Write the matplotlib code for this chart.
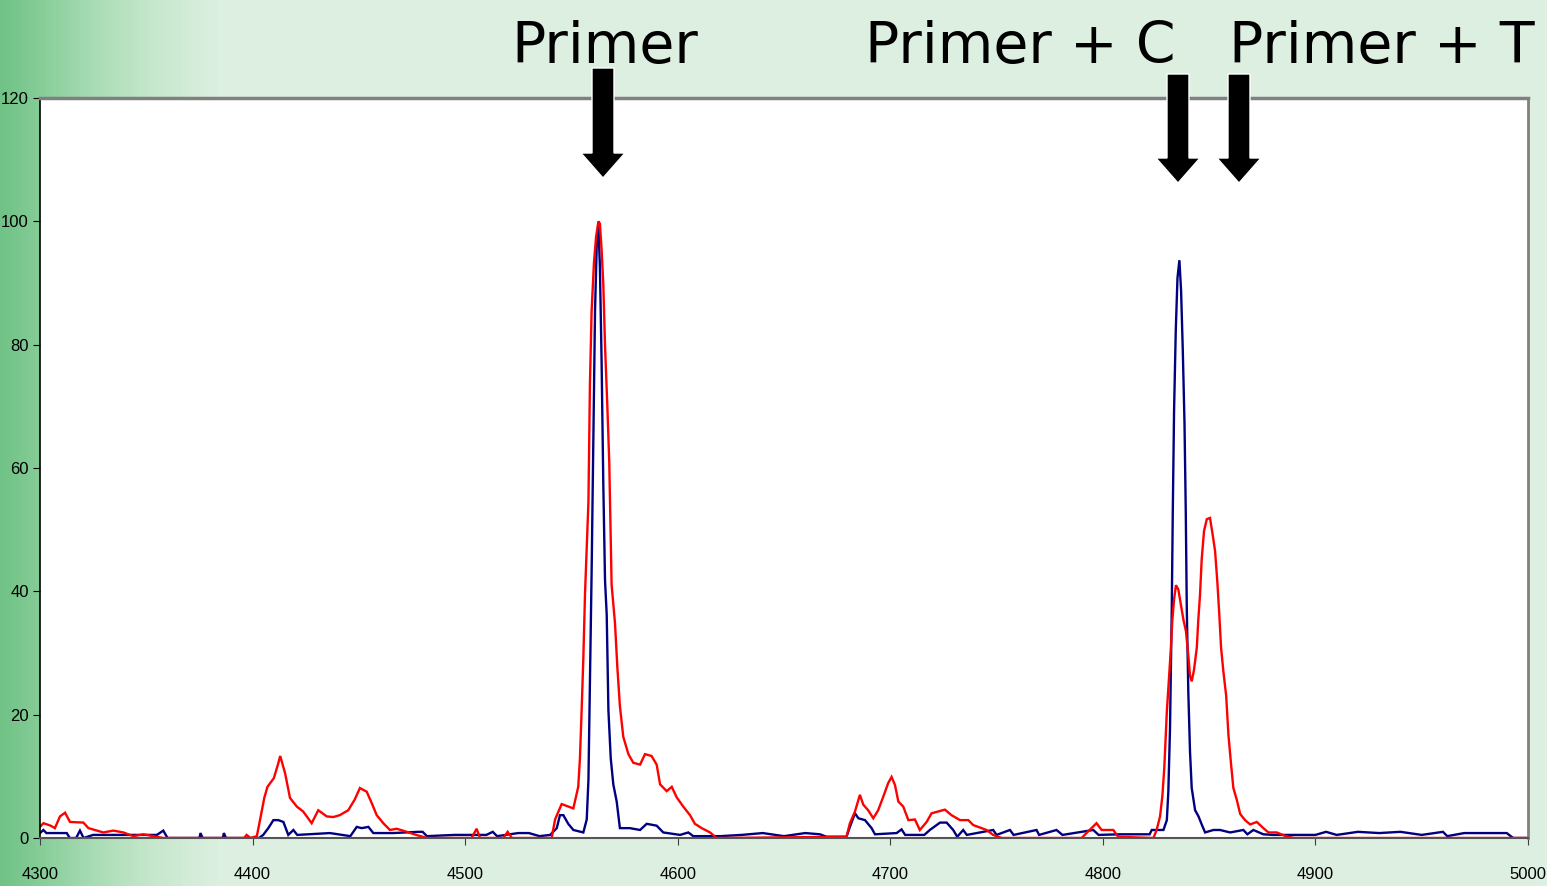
import numpy as np
import matplotlib
matplotlib.use("Agg")
from matplotlib import pyplot as plt
from matplotlib.patches import FancyArrow
from matplotlib.transforms import IdentityTransform

# DATA
red_mass = [4300, 4301.6, 4305, 4307, 4309.4, 4311.8, 4314.1, 4320.4, 4322.8, 4326.7,
            4329.8, 4334.5, 4339.2, 4343.9, 4348.6, 4353.3, 4358, 4396, 4397.2, 4399,
            4402, 4403.5, 4405.5, 4407, 4410, 4412, 4413, 4415.3, 4417.6, 4420.8,
            4423.8, 4427.8, 4430.9, 4434.9, 4438, 4441, 4445, 4448, 4450.5, 4453.7,
            4456, 4458.4, 4461.5, 4464.6, 4467.8, 4472.5, 4477, 4482, 4503, 4505.4,
            4507, 4518, 4520, 4522, 4540.7, 4542.3, 4545.4, 4548.5, 4550.9, 4553.2,
            4554.0, 4554.8, 4555.6, 4556.4, 4558.0, 4558.7, 4559.5, 4560.6, 4561.6, 4562.7,
            4563.4, 4564.2, 4565.0, 4565.8, 4566.9, 4567.8, 4568.9, 4570.5, 4571.6, 4572.8,
            4574.4, 4576.8, 4579.1, 4582.3, 4584.6, 4587.7, 4590.1, 4591.7, 4594.8, 4597.2,
            4599.5, 4602.6, 4605.8, 4608.1, 4611.3, 4615.2, 4618.3, 4679.4, 4681, 4683.4,
            4685.7, 4687.3, 4689.6, 4692, 4694.3, 4696.7, 4699.0, 4700.6, 4702.2, 4703.8,
            4706.1, 4708.5, 4711.6, 4713.9, 4717.1, 4719.4, 4722.6, 4725.7, 4728.8, 4732.8,
            4736.7, 4739.0, 4742.2, 4745.3, 4748.4, 4752.4, 4790, 4792.3, 4797.0, 4799.4,
            4804.9, 4807.2, 4823.8, 4825.3, 4826.9, 4828.0, 4828.9, 4830.1, 4831.2, 4831.9,
            4832.7, 4833.5, 4834.4, 4835.5, 4836.6, 4837.9, 4839.1, 4840.2, 4841.0, 4841.8,
            4842.9, 4844.2, 4844.9, 4845.7, 4846.5, 4847.6, 4848.9, 4850.4, 4851.7, 4852.8,
            4853.9, 4854.8, 4855.6, 4856.7, 4858.0, 4859.1, 4860.3, 4861.4, 4863.0, 4864.6,
            4866.9, 4869.3, 4872.4, 4875.5, 4877.9, 4881.8, 4886, 4890, 5000]
red_int = [1.8, 2.4, 2.0, 1.6, 3.5, 4.1, 2.6, 2.5, 1.6, 1.2,
           0.9, 1.2, 0.9, 0.3, 0.6, 0.3, 0, 0, 0.5, 0,
           0.3, 2.9, 6.5, 8.3, 9.7, 12.0, 13.3, 10.5, 6.5, 5.1,
           4.3, 2.4, 4.5, 3.5, 3.4, 3.7, 4.5, 6.2, 8.1, 7.5,
           5.7, 3.7, 2.4, 1.3, 1.5, 1.0, 0.5, 0, 0, 1.5,
           0, 0, 1.0, 0, 0, 3.0, 5.5, 5.1, 4.8, 8.3,
           12.9, 20.7, 29.1, 39.7, 54.5, 73.6, 85.5, 93.3, 97.5, 100,
           99.6, 95.4, 89.8, 79.9, 70.0, 60.9, 41.1, 34.8, 27.7, 21.4,
           16.4, 13.6, 12.2, 11.9, 13.6, 13.3, 11.9, 8.7, 7.6, 8.3,
           6.6, 5.1, 3.7, 2.3, 1.6, 0.9, 0, 0.2, 2.4, 4.3,
           7.0, 5.4, 4.5, 3.2, 4.5, 6.7, 8.9, 9.9, 8.6, 5.9,
           5.1, 2.9, 3.0, 1.3, 2.6, 4.0, 4.3, 4.6, 3.7, 2.9,
           2.9, 2.1, 1.7, 1.3, 0.5, 0, 0, 0.8, 2.4, 1.3,
           1.3, 0.2, 0, 1.3, 3.5, 6.8, 11.4, 20.5, 26.3, 30.2,
           35.4, 38.7, 41.0, 40.3, 38.1, 35.4, 33.5, 29.6, 26.3, 25.4,
           27.3, 30.9, 35.4, 39.4, 45.2, 49.8, 51.7, 51.9, 49.1, 46.5,
           41.3, 36.1, 30.9, 27.0, 23.1, 16.6, 12.0, 8.1, 6.2, 3.9,
           2.9, 2.2, 2.6, 1.6, 0.9, 0.9, 0.3, 0, 0]

blue_mass = [4300, 4301.6, 4303, 4312.6, 4314, 4317, 4318.8, 4320.5, 4325, 4340,
             4355, 4358, 4360, 4375, 4375.5, 4376.5, 4386, 4386.5, 4387.5, 4403,
             4405, 4407.4, 4409.8, 4412.1, 4414.5, 4416.8, 4419.2, 4421, 4436.4, 4446,
             4449, 4451.3, 4454.5, 4456.8, 4466, 4478, 4480, 4482, 4495, 4510,
             4513, 4515, 4525, 4530, 4535, 4540, 4543.1, 4544.6, 4546.2, 4548.5,
             4550.9, 4555.6, 4557.2, 4558.0, 4558.7, 4559.5, 4560.3, 4561.1, 4561.9, 4562.7,
             4563.4, 4564.2, 4565.0, 4565.8, 4566.6, 4567.4, 4568.5, 4569.7, 4571.3, 4572.8,
             4577.5, 4582.3, 4585.4, 4590.1, 4593.2, 4601.1, 4605.0, 4607.3, 4620, 4630,
             4640, 4650, 4660, 4666.9, 4670, 4679.4, 4681, 4683.4, 4685, 4688.1,
             4691.2, 4692.8, 4703, 4705.3, 4707, 4716, 4718.6, 4723.4, 4726.5, 4729.6,
             4731.5, 4734.3, 4736, 4748.4, 4750, 4756.3, 4758, 4768.8, 4770, 4778.2,
             4781, 4795.5, 4798, 4808, 4822, 4823, 4828.5, 4830.1, 4830.8, 4831.6,
             4832.4, 4832.9, 4833.5, 4834.3, 4835.1, 4836.0, 4836.8, 4837.6, 4838.4, 4839.0,
             4839.5, 4840.2, 4841.0, 4841.8, 4843.4, 4845.0, 4846.5, 4848.1, 4852.0, 4855.1,
             4859.9, 4866.1, 4868, 4870.8, 4875.5, 4880, 4900, 4905, 4910, 4920,
             4930, 4940, 4950, 4960, 4962, 4970, 4980, 4990, 4993, 5000]
blue_int = [0.8, 1.3, 0.8, 0.8, 0, 0, 1.2, 0, 0.5, 0.5,
            0.5, 1.2, 0, 0, 0.8, 0, 0, 0.8, 0, 0,
            0.5, 1.6, 2.9, 2.9, 2.6, 0.5, 1.3, 0.5, 0.8, 0.3,
            1.8, 1.6, 1.8, 0.8, 0.8, 1.0, 1.0, 0.3, 0.5, 0.5,
            1.0, 0.3, 0.8, 0.8, 0.3, 0.5, 1.6, 3.7, 3.7, 2.3,
            1.3, 0.9, 3.0, 9.4, 24.9, 43.2, 64.4, 85.5, 96.1, 99.3,
            92.6, 77.1, 57.3, 41.8, 36.2, 20.7, 12.9, 8.7, 5.9, 1.6,
            1.6, 1.3, 2.3, 2.0, 0.9, 0.5, 0.9, 0.3, 0.3, 0.5,
            0.8, 0.3, 0.8, 0.6, 0.2, 0.2, 1.8, 4.0, 3.2, 2.9,
            1.6, 0.6, 0.8, 1.4, 0.5, 0.5, 1.3, 2.5, 2.5, 1.3,
            0.2, 1.3, 0.5, 1.3, 0.5, 1.3, 0.5, 1.3, 0.5, 1.3,
            0.5, 1.3, 0.5, 0.6, 0.6, 1.3, 1.3, 2.9, 7.5, 17.9,
            36.8, 53.0, 69.3, 82.3, 90.8, 93.7, 88.8, 79.1, 67.4, 53.0,
            36.8, 23.7, 14.0, 8.1, 4.5, 3.5, 2.2, 0.9, 1.3, 1.3,
            0.9, 1.3, 0.6, 1.3, 0.6, 0.5, 0.5, 1.0, 0.5, 1.0,
            0.8, 1.0, 0.5, 1.0, 0.3, 0.8, 0.8, 0.8, 0, 0]

x_ticks = [4300, 4400, 4500, 4600, 4700, 4800, 4900, 5000]
y_ticks = [0, 20, 40, 60, 80, 100, 120]
labels = ["Primer", "Primer + C", "Primer + T"]

W, H = 1547, 886
fig = plt.figure(figsize=(W / 100, H / 100), dpi=100)

# green slide background
bg = fig.add_axes([0, 0, 1, 1], zorder=-10)
bg.axis("off")
xs = np.linspace(0, 1, 400)
stops_x = [0.0, 0.025, 0.06, 0.1, 0.14, 1.0]
r = np.interp(xs, stops_x, [112, 135, 168, 200, 220, 222])
g = np.interp(xs, stops_x, [194, 205, 220, 232, 239, 240])
b = np.interp(xs, stops_x, [134, 152, 180, 206, 224, 226])
grad = np.stack([r, g, b], axis=-1)[None, :, :] / 255.0
bg.imshow(grad, aspect="auto", extent=[0, 1, 0, 1])
bg.set_xlim(0, 1)
bg.set_ylim(0, 1)

ax = fig.add_axes([40 / W, 1 - 838 / H, (1528 - 40) / W, (838 - 98) / H])
ax.set_facecolor("white")
ax.plot(blue_mass, blue_int, color="#000080", lw=1.7, solid_joinstyle="miter")
ax.plot(red_mass, red_int, color="#ff0000", lw=1.7, solid_joinstyle="miter")
ax.set_xlim(4300, 5000)
ax.set_ylim(0, 120)
ax.set_xticks(x_ticks)
ax.set_yticks(y_ticks)

tick_font = ["Liberation Sans Narrow", "Liberation Sans", "DejaVu Sans"]
ax.set_xticklabels([str(t) for t in x_ticks], family=tick_font, fontsize=12)
ax.set_yticklabels([str(t) for t in y_ticks], family=tick_font, fontsize=12)
ax.tick_params(axis="x", direction="out", length=5, pad=16, color="#404040")
ax.tick_params(axis="y", direction="out", length=5, pad=3, color="black")

ax.spines["top"].set_color("#808080")
ax.spines["top"].set_linewidth(2.5)
ax.spines["right"].set_color("#808080")
ax.spines["right"].set_linewidth(2)
ax.spines["left"].set_color("black")
ax.spines["left"].set_linewidth(1.2)
ax.spines["bottom"].set_color("#555555")
ax.spines["bottom"].set_linewidth(1.5)

# labels and arrows (pixel coords, y from bottom)
label_x = [605, 1020, 1382]
for lab, lx in zip(labels, label_x):
    fig.text(lx / W, 1 - 63 / H, lab, ha="center", va="baseline",
             fontsize=41, color="black", family="DejaVu Sans")

arrow_x = [603, 1178, 1239]
arrow_top = [68, 74, 74]
arrow_tip = [178, 183, 183]
for axx, top, tip in zip(arrow_x, arrow_top, arrow_tip):
    arr = FancyArrow(axx, H - top, 0, -(tip - top), width=22, head_width=44,
                     head_length=25, length_includes_head=True,
                     facecolor="black", edgecolor="white", linewidth=1,
                     transform=IdentityTransform(), zorder=20)
    fig.add_artist(arr)

plt.savefig("out.png", dpi=100)
